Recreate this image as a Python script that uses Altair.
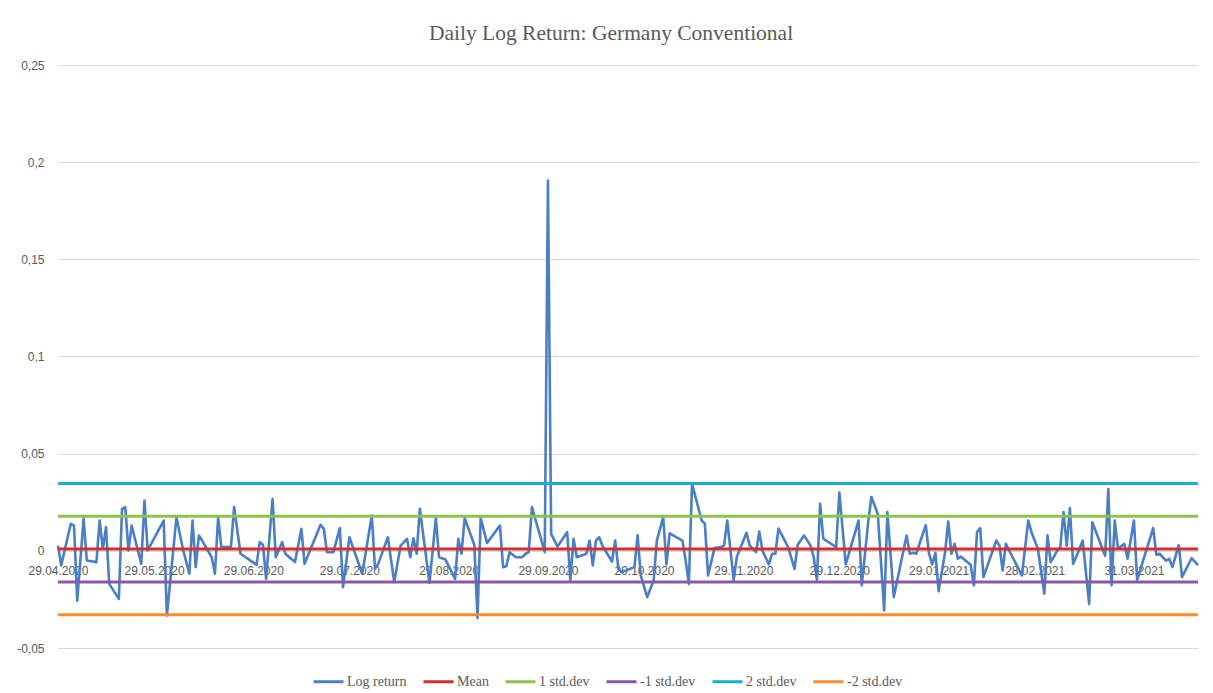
import altair as alt
import pandas as pd

# ---------------- data ----------------
start_date = "2020-04-29"

# calendar-day offset from 29.04.2020 of each visible vertex of the series
day_offsets = [
    0, 1, 4, 5, 6, 8, 9, 12, 13, 14, 15, 16, 19, 20, 21, 22, 23, 26, 27, 28,
    33, 34, 37, 39, 41, 42, 43, 44, 45, 48, 49, 50, 51, 54, 55, 57, 62, 63, 64, 65,
    67, 68, 70, 71, 74, 76, 77, 82, 83, 84, 86, 88, 89, 91, 95, 98, 99, 100, 103, 105,
    107, 109, 110, 111, 112, 113, 116, 118, 119, 121, 124, 125, 126, 127, 130, 131, 132, 134, 138, 139,
    140, 141, 143, 145, 146, 147, 148, 152, 153, 154, 156, 159, 160, 161, 162, 165, 166, 167, 168, 169,
    170, 173, 174, 175, 176, 180, 181, 182, 184, 186, 187, 189, 190, 191, 195, 196, 197, 198, 201, 202,
    203, 205, 207, 208, 209, 211, 212, 215, 216, 218, 219, 220, 222, 223, 224, 225, 228, 230, 231, 233,
    235, 236, 237, 238, 239, 243, 244, 246, 250, 251, 253, 254, 256, 258, 259, 261, 265, 266, 267, 268,
    271, 272, 273, 274, 275, 277, 278, 279, 280, 281, 282, 285, 286, 287, 288, 289, 293, 294, 295, 296,
    301, 303, 304, 306, 308, 309, 310, 311, 312, 313, 314, 315, 316, 317, 318, 320, 322, 323, 327, 328,
    329, 330, 331, 333, 334, 336, 337, 342, 343, 344, 346, 347, 348, 350, 351, 354, 356,
]

log_return = [
    0.0027, -0.0075, 0.0139, 0.0130, -0.0256, 0.0165, -0.0050, -0.0058, 0.0156, 0.0010,
    0.0122, -0.0170, -0.0247, 0.0216, 0.0225, 0.0002, 0.0130, -0.0067, 0.0259, 0.0002,
    0.0156, -0.0333, 0.0173, 0.0010, -0.0118, 0.0156, -0.0084, 0.0079, 0.0053, -0.0033,
    -0.0118, 0.0173, 0.0019, 0.0019, 0.0225, -0.0015, -0.0072, 0.0045, 0.0031, -0.0144,
    0.0268, -0.0033, 0.0045, -0.0015, -0.0058, 0.0113, -0.0067, 0.0134, 0.0113, -0.0007,
    -0.0007, 0.0117, -0.0187, 0.0070, -0.0118, 0.0182, -0.0093, -0.0067, 0.0070, -0.0161,
    0.0027, 0.0062, -0.0033, 0.0065, -0.0015, 0.0216, -0.0165, 0.0168, -0.0033, -0.0045,
    -0.0144, 0.0062, -0.0015, 0.0168, 0.0031, -0.0345, 0.0168, 0.0040, 0.0130, -0.0084,
    -0.0079, -0.0007, -0.0033, -0.0033, -0.0015, -0.0007, 0.0225, -0.0007, 0.1905, 0.0087,
    0.0022, 0.0096, -0.0150, 0.0062, -0.0033, -0.0015, 0.0053, -0.0075, 0.0053, 0.0070,
    0.0027, -0.0055, 0.0053, -0.0093, -0.0110, -0.0084, 0.0080, -0.0127, -0.0238, -0.0153,
    0.0053, 0.0173, -0.0070, 0.0090, 0.0053, -0.0050, -0.0170, 0.0345, 0.0156, 0.0140,
    -0.0127, 0.0014, 0.0019, 0.0027, 0.0156, -0.0150, -0.0030, 0.0093, 0.0027, -0.0007,
    0.0099, 0.0000, -0.0070, -0.0015, -0.0015, 0.0115, 0.0019, -0.0093, 0.0031, 0.0079,
    0.0027, -0.0033, -0.0150, 0.0242, 0.0062, 0.0019, 0.0300, -0.0070, 0.0156, -0.0178,
    0.0147, 0.0277, 0.0190, -0.0307, 0.0199, -0.0238, 0.0079, -0.0015, -0.0010, -0.0015,
    0.0132, -0.0015, -0.0070, -0.0010, -0.0208, -0.0010, 0.0151, -0.0015, 0.0036, -0.0040,
    -0.0030, -0.0072, -0.0178, 0.0096, 0.0117, -0.0135, 0.0053, 0.0027, -0.0101, 0.0036,
    -0.0127, 0.0156, 0.0096, 0.0010, -0.0221, 0.0080, -0.0058, -0.0030, 0.0000, 0.0020,
    0.0199, 0.0027, 0.0220, -0.0067, -0.0030, 0.0053, -0.0273, 0.0147, -0.0025, 0.0318,
    -0.0177, 0.0156, 0.0010, 0.0036, -0.0041, 0.0156, -0.0150, 0.0117, -0.0020, -0.0015,
    -0.0050, -0.0041, -0.0084, 0.0029, -0.0135, -0.0038, -0.0074,
]

level_names = ["Mean", "1 std.dev", "-1 std.dev", "2 std.dev", "-2 std.dev"]
level_values = [0.0009, 0.0178, -0.0160, 0.0347, -0.0329]

series_names = ["Log return"] + level_names
series_colors = ["#4A7EC6", "#D2302E", "#8CC34B", "#8759A6", "#17AFD3", "#FF8C28"]

x_tick_dates = [
    (2020, 4, 29), (2020, 5, 29), (2020, 6, 29), (2020, 7, 29), (2020, 8, 29),
    (2020, 9, 29), (2020, 10, 29), (2020, 11, 29), (2020, 12, 29), (2021, 1, 29),
    (2021, 2, 28), (2021, 3, 31),
]
y_ticks = [-0.05, 0, 0.05, 0.1, 0.15, 0.2, 0.25]
y_domain = [-0.05, 0.25]

title_text = "Daily Log Return: Germany Conventional"

# ---------------- build tables ----------------
dates = pd.Timestamp(start_date) + pd.to_timedelta(day_offsets, unit="D")
df_ret = pd.DataFrame({"date": dates, "value": log_return, "series": "Log return"})
first, last = dates[0], dates[-1]
df_lvl = pd.DataFrame(
    [{"date": d, "value": v, "series": n}
     for n, v in zip(level_names, level_values) for d in (first, last)]
)

W, H = 1140, 583
GRAY = "#595959"


def dt(ts):
    return alt.DateTime(year=int(ts.year), month=int(ts.month), date=int(ts.day))


x_enc = alt.X(
    "date:T",
    scale=alt.Scale(domain=[dt(first), dt(last)]),
    axis=alt.Axis(
        values=[alt.DateTime(year=y, month=m, date=d) for (y, m, d) in x_tick_dates],
        format="%d.%m.%Y",
        labelFont="Liberation Sans",
        labelFontSize=12,
        labelColor=GRAY,
        ticks=False,
        domain=False,
        grid=False,
        title=None,
        labelFlush=False,
        labelOverlap=False,
        labelPadding=15,
        offset=-H * (0 - y_domain[0]) / (y_domain[1] - y_domain[0]),
    ),
)
y_enc = alt.Y(
    "value:Q",
    scale=alt.Scale(domain=y_domain, nice=False, zero=False),
    axis=alt.Axis(
        values=y_ticks,
        labelExpr="replace(toString(datum.value), '.', ',')",
        grid=True,
        gridColor="#D9D9D9",
        gridWidth=1,
        ticks=False,
        domain=False,
        title=None,
        labelPadding=14,
        labelFont="Liberation Sans",
        labelFontSize=12,
        labelColor=GRAY,
    ),
)
color_enc = alt.Color(
    "series:N",
    scale=alt.Scale(domain=series_names, range=series_colors),
    legend=alt.Legend(
        orient="none",
        legendX=254,
        legendY=600,
        direction="horizontal",
        title=None,
        symbolType="stroke",
        symbolSize=900,
        symbolStrokeWidth=3,
        labelFont="Liberation Serif",
        labelFontSize=14,
        labelColor=GRAY,
        labelOffset=2,
        columnPadding=10,
        padding=0,
    ),
)

line_ret = alt.Chart(df_ret).mark_line(strokeWidth=2.6, strokeJoin="round").encode(
    x=x_enc, y=y_enc, color=color_enc
)
line_lvl = alt.Chart(df_lvl).mark_line(strokeWidth=3).encode(
    x=x_enc, y=y_enc, color=color_enc
)

chart = (
    alt.layer(line_ret, line_lvl)
    .properties(
        width=W,
        height=H,
        autosize=alt.AutoSizeParams(type="none"),
        padding={"left": 50, "top": 57, "right": 7, "bottom": 45},
        title=alt.Title(
            title_text,
            font="Liberation Serif",
            fontSize=21.5,
            fontWeight="normal",
            color=GRAY,
            anchor="middle",
            frame="group",
            dx=-17,
            offset=15,
        ),
        background="white",
    )
    .configure_view(stroke=None)
)

chart.save("out.html", embed_options={"renderer": "svg", "actions": False})
